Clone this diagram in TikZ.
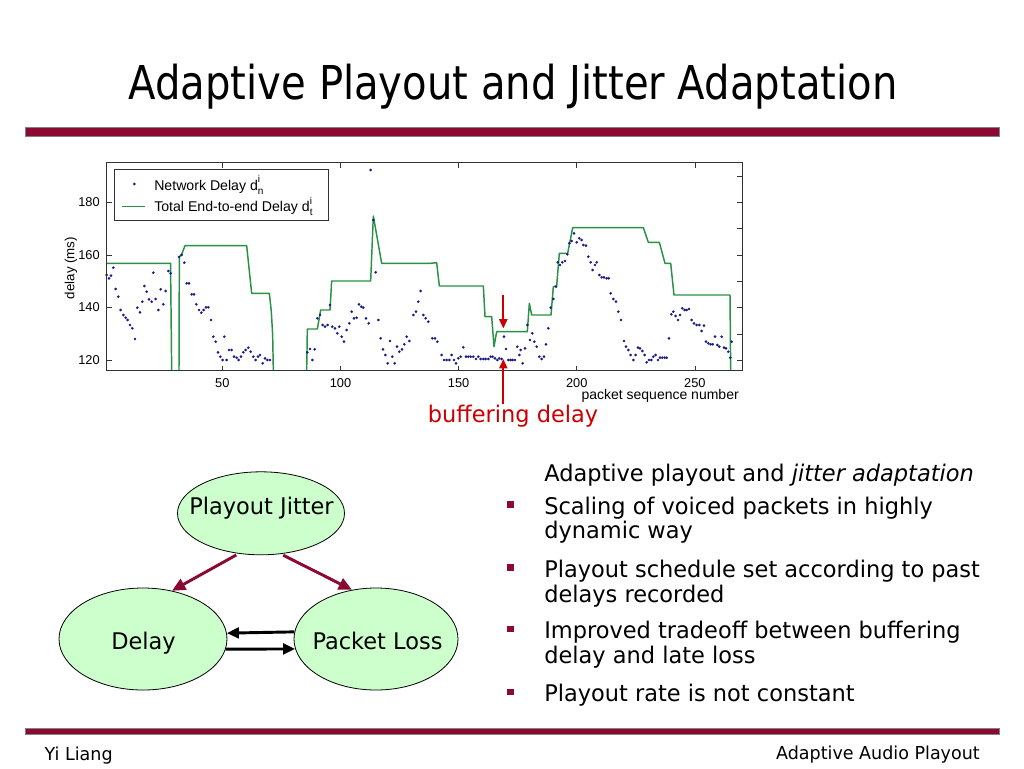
\documentclass[tikz,border=0pt]{standalone}
\usepackage{fontspec}
\setmainfont{DejaVu Sans}[FakeStretch=0.98]
\newfontfamily\titlefont{DejaVu Sans}[FakeStretch=0.86]
\newfontfamily\plotfont{Liberation Sans}
\usetikzlibrary{arrows.meta,shapes.geometric}
\definecolor{barred}{RGB}{139,10,50}
\definecolor{lightgreen}{RGB}{204,255,204}
\definecolor{plotgreen}{RGB}{40,145,70}
\definecolor{dotblue}{RGB}{25,25,135}
\definecolor{annred}{RGB}{204,0,0}
\newcommand\mydsub[2]{d\rlap{\raisebox{0.95ex}{\fontsize{7.5}{7.5}\selectfont #1}}\raisebox{-0.55ex}{\fontsize{7.5}{7.5}\selectfont #2}}
\tikzset{
  bodytext/.style={font=\fontsize{17.2}{20}\selectfont, inner sep=0pt},
  titletext/.style={font=\titlefont\fontsize{35}{40}\selectfont, inner sep=0pt},
  foottext/.style={font=\fontsize{13.4}{16}\selectfont, inner sep=0pt},
  ellnode/.style={ellipse, draw=black, line width=0.6pt, fill=lightgreen, inner sep=0pt},
  redarrow/.style={draw=barred, line width=2.2pt, -{Triangle[length=10pt,width=9pt]}},
  blackarrow/.style={draw=black, line width=2.2pt, -{Triangle[length=9pt,width=8pt]}},
  annarrow/.style={draw=annred, line width=1.5pt, -{Triangle[length=7pt,width=6pt]}},
  bulletsq/.style={fill=barred, draw=none, minimum size=4.8pt, inner sep=0pt},
  ticklab/.style={font=\plotfont\fontsize{9.6}{12}\selectfont, inner sep=0pt},
  legtext/.style={font=\plotfont\fontsize{10.6}{12}\selectfont, inner sep=0pt},
  axisline/.style={draw=black!80, line width=0.6pt},
  plotline/.style={draw=plotgreen, line width=1.1pt, line join=round},
  bar/.style={fill=barred, draw=black!50, line width=0.4pt}
}
\begin{document}
\begin{tikzpicture}[x=0.75pt,y=-0.75pt]
\useasboundingbox (0,0) rectangle (1024,768);
\fill[white] (0,0) rectangle (1024,768);

% title and bars
\node[titletext, anchor=base] (title) at (513,99.5) {Adaptive Playout and Jitter Adaptation};
\path[bar] (25,127) rectangle (999,136.5);
\path[bar] (25,728) rectangle (999,734);
\node[foottext, anchor=base west] (foot1) at (44.3,760) {Yi Liang};
\node[foottext, anchor=base east] (foot2) at (980,759.5) {Adaptive Audio Playout};

% ---------------- plot ----------------
\path[fill=white] (106.7,162.7) rectangle (742.3,370.7);
\begin{scope}[shift={(100,155)},x=0.25pt,y=-0.25pt]
  \draw[plotline] (20,325) -- (212,325) -- (212,360) -- (215,647);
  \draw[plotline] (237,647) -- (238,306) -- (245,298) -- (255,272) -- (440,272) -- (455,415) -- (508,415) -- (514,470) -- (518,540) -- (520,647);
  \draw[plotline] (620,647) -- (622,522) -- (652,522) -- (662,465) -- (690,465) -- (695,378) -- (812,378) -- (820,183) -- (845,325) -- (990,325);
  \foreach \a/\b in {20/360,27/370,33/362,40/338,47/402,55/425,62/465,70/480,77/488,83/495,90/510,97/520,105/552,112/458,120/472,127/440,133/393,140/410,147/433,155/440,160/353,167/432,175/465,182/403,190/448,197/408,205/348,212/355,
  237/306,245/300,253/323,260/385,267/385,275/418,282/418,289/448,297/465,304/473,311/465,318/457,325/457,333/495,340/545,347/560,354/592,361/605,368/615,373/545,380/615,387/585,395/585,402/605,410/608,416/615,423/605,430/592,437/585,445/578,452/590,460/605,467/615,474/605,480/600,488/625,495/610,502/615,510/615,
  622/592,630/582,637/615,644/583,652/490,660/480,668/510,675/515,683/510,690/450,697/515,705/520,712/535,718/515,725/545,732/560,740/525,748/505,755/470,762/490,770/488,777/448,784/455,790/458,798/490,806/505,812/45,820/195,827/352,835/495,842/550,849/583,856/600,863/625,870/558,877/605,884/625,891/575,898/590,906/583,913/568,920/545,928/558,940/480,948/470,955/440,962/408,970/480,977/490,985/500}
    \fill[dotblue] (\a,\b) circle[radius=1.1pt];
\end{scope}
\begin{scope}[shift={(420,155)},x=0.25pt,y=-0.25pt]
  \draw[plotline] (30,325) -- (50,323) -- (58,393) -- (190,393) -- (195,485) -- (215,485) -- (222,575) -- (230,530) -- (322,530) -- (328,445) -- (335,480) -- (393,480) -- (400,395) -- (410,393) -- (418,295) -- (443,295) -- (458,218) -- (670,218) -- (685,262) -- (718,262) -- (735,325) -- (752,325) -- (762,420) -- (930,420) -- (932,647);
  \foreach \a/\b in {37/550,45/550,52/560,65/600,72/615,80/615,88/615,95/600,102/615,108/625,115/610,122/605,130/577,138/605,145/605,152/605,160/605,168/612,175/605,182/612,190/612,197/612,205/612,212/605,218/605,225/610,232/615,238/610,245/612,252/545,258/582,265/615,272/615,278/615,285/615,292/575,298/600,302/585,308/625,315/580,322/510,330/555,337/535,343/560,350/575,358/605,365/612,372/605,378/568,385/520,392/458,400/432,408/395,413/322,420/330,427/322,435/318,442/298,448/265,455/258,462/235,470/262,478/250,485/255,490/270,498/272,505/305,512/322,518/345,525/330,530/322,538/360,545/367,552/367,560/370,566/370,572/415,580/432,588/440,595/470,603/495,612/558,618/575,625/585,632/600,640/615,647/600,654/578,660/580,667/588,674/600,680/622,687/615,694/615,700/605,707/600,714/615,720/608,727/608,734/608,740/608,747/550,754/478,760/470,767/483,774/495,780/480,787/460,794/465,800/465,807/462,815/495,822/505,830/510,838/510,845/528,852/512,858/560,865/565,872/568,878/568,885/545,892/570,898/575,905/545,912/578,918/580,925/590,931/608,935/560}
    \fill[dotblue] (\a,\b) circle[radius=1.1pt];
\end{scope}
% frame and ticks
\draw[axisline] (106.7,162.7) rectangle (742.3,370.7);
\foreach \p in {50,100,150,200,250} {
  \draw[axisline] ({104.15+2.363*\p},370.7) -- ++(0,-5);
  \draw[axisline] ({104.15+2.363*\p},162.7) -- ++(0,5);
  \node[ticklab, anchor=base] (xt\p) at ({104.15+2.363*\p},387) {\p};
}
\foreach \v in {120,140,160,180} {
  \draw[axisline] (106.7,{676.26-2.633*\v}) -- ++(5,0);
  \node[ticklab, anchor=base east] (yt\v) at (100,{680.6-2.633*\v}) {\v};
}
\foreach \v in {120,130,...,190} {
  \draw[axisline] (742.3,{676.26-2.633*\v}) -- ++(-5,0);
}
\node[ticklab, rotate=90, font=\plotfont\fontsize{10}{12}\selectfont] (ylab) at (71,268) {delay (ms)};
\node[ticklab, anchor=base east, font=\plotfont\fontsize{10.5}{12}\selectfont] (xlab) at (739,399.5) {packet sequence number};
% legend
\node[draw=black!80, line width=0.5pt, fill=white, minimum width=160.5pt, minimum height=38.25pt, inner sep=0pt] (legend) at (221,194.5) {};
\fill[dotblue] (134.3,184) circle[radius=1.1pt];
\draw[plotline] (121.7,206.7) -- (145,206.7);
\node[legtext, anchor=base west] (leg1) at (154,190) {Network Delay \mydsub{i}{n}};
\node[legtext, anchor=base west] (leg2) at (154,211.7) {Total End-to-end Delay \mydsub{i}{t}};
% annotation
\node[bodytext, anchor=base, text=annred] (buf) at (513,422) {buffering delay};
\coordinate (bufup) at (503.3,359);
\coordinate (bufdtop) at (503.3,295);
\coordinate (bufdtip) at (503.3,328.5);
\draw[annarrow] (bufup |- buf.north) -- (bufup);
\draw[annarrow] (bufdtop) -- (bufdtip);

% ---------------- diagram ----------------
\node[ellnode, minimum width=125.25pt, minimum height=62.25pt] (pj) at (261,513.3) {};
\node[ellnode, minimum width=126pt, minimum height=76.5pt] (dl) at (143,639) {};
\node[ellnode, minimum width=123pt, minimum height=76.5pt] (pl) at (376,639) {};
\node[bodytext, anchor=base] (pjt) at (261.5,514) {Playout Jitter};
\node[bodytext, anchor=base] (dlt) at (143.5,649.3) {Delay};
\node[bodytext, anchor=base] (plt) at (377.5,649.3) {Packet Loss};
\draw[redarrow, shorten <=2pt] (pj.241) -- (dl.59);
\draw[redarrow, shorten <=2pt] (pj.296) -- (pl.116.6);
\draw[blackarrow] (pl.175.6) -- (dl.4.3);
\draw[blackarrow] (dl.-7.13) -- (pl.187.3);

% ---------------- bullets ----------------
\node[bodytext, anchor=base west] (l0) at (544,481) {Adaptive playout and \textit{jitter adaptation}};
\node[bulletsq] (b1) at (510.3,504.5) {};
\node[bodytext, anchor=base west] (l1) at (544,514) {Scaling of voiced packets in highly};
\node[bodytext, anchor=base west] (l1b) at (544,538.5) {dynamic way};
\node[bulletsq] (b2) at (510.3,567.5) {};
\node[bodytext, anchor=base west] (l2) at (544,577) {Playout schedule set according to past};
\node[bodytext, anchor=base west] (l2b) at (544,602) {delays recorded};
\node[bulletsq] (b3) at (510.3,629) {};
\node[bodytext, anchor=base west] (l3) at (544,638.5) {Improved tradeoff between buffering};
\node[bodytext, anchor=base west] (l3b) at (544,663.5) {delay and late loss};
\node[bulletsq] (b4) at (510.3,692) {};
\node[bodytext, anchor=base west] (l4) at (544,701.5) {Playout rate is not constant};
\end{tikzpicture}
\end{document}
